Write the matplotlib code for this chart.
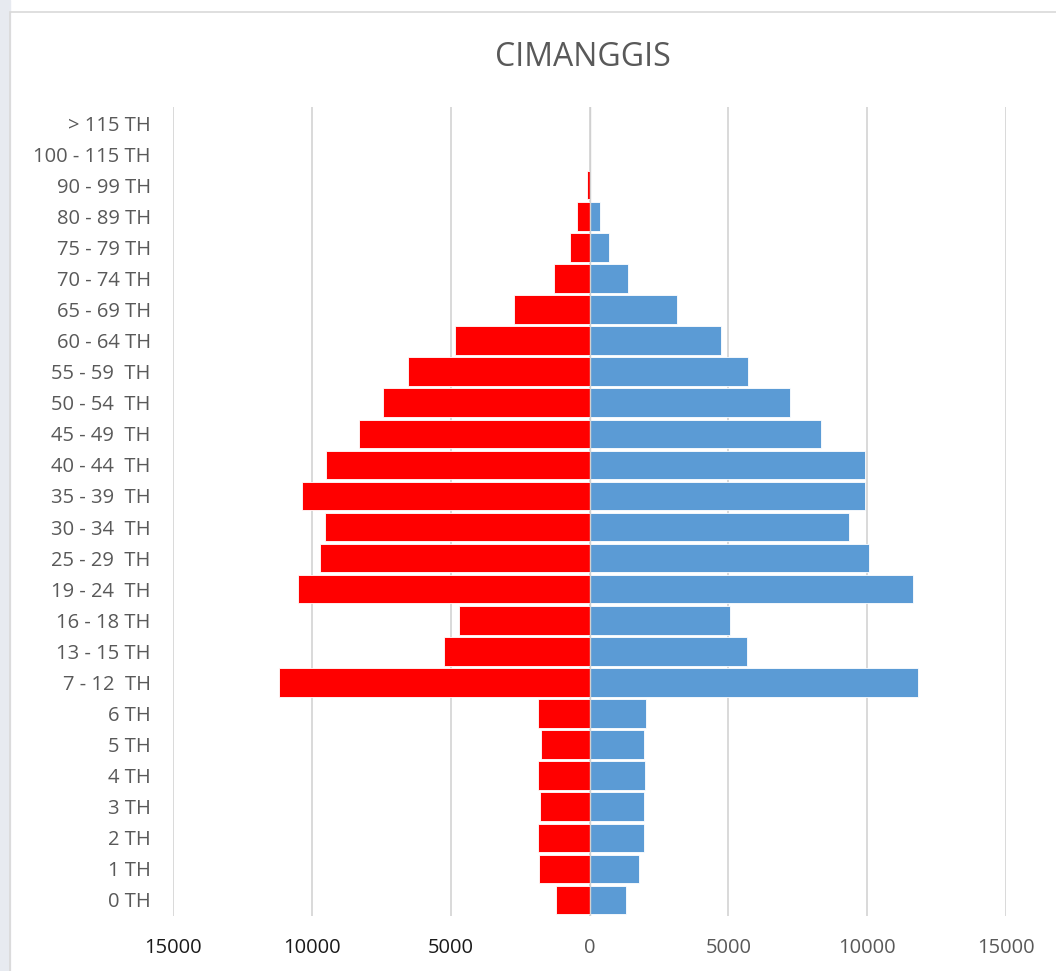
import numpy as np
import matplotlib.pyplot as plt
from matplotlib.patches import Rectangle
from matplotlib.ticker import FuncFormatter

# Age groups, bottom to top (as drawn)
age_groups = [
    "0 TH", "1 TH", "2 TH", "3 TH", "4 TH", "5 TH", "6 TH",
    "7 - 12  TH", "13 - 15 TH", "16 - 18 TH", "19 - 24  TH", "25 - 29  TH",
    "30 - 34  TH", "35 - 39  TH", "40 - 44  TH", "45 - 49  TH", "50 - 54  TH",
    "55 - 59  TH", "60 - 64 TH", "65 - 69 TH", "70 - 74 TH", "75 - 79 TH",
    "80 - 89 TH", "90 - 99 TH", "100 - 115 TH", "> 115 TH",
]

# left side (red)
left_counts = [
    1200, 1810, 1870, 1800, 1870, 1760, 1870,
    11190, 5250, 4710, 10500, 9710,
    9530, 10360, 9500, 8310, 7450,
    6550, 4860, 2720, 1295, 720,
    440, 80, 0, 0,
]

# right side (blue)
right_counts = [
    1320, 1800, 1980, 1980, 2010, 1980, 2050,
    11830, 5680, 5070, 11650, 10070,
    9350, 9930, 9930, 8350, 7230,
    5720, 4750, 3150, 1380, 710,
    395, 0, 0, 0,
]

x_ticks = [-15000, -10000, -5000, 0, 5000, 10000, 15000]

W, H = 1056, 971
fig = plt.figure(figsize=(W / 100, H / 100), dpi=100)
plt.rcParams['font.family'] = ['Open Sans', 'DejaVu Sans']

# faint background strip and the chart border
fig.patches.append(Rectangle((0, 0), 10 / W, 1, transform=fig.transFigure,
                             color="#e7eaf0", zorder=0))
fig.patches.append(Rectangle((10 / W, -0.01), 1, 1 - 12 / H + 0.01,
                             transform=fig.transFigure, fill=False,
                             edgecolor="#d9d9d9", linewidth=1.2, zorder=1))

ax = fig.add_axes([173 / W, 1 - 915.5 / H, (1006 - 173) / W, (915.5 - 107.5) / H])

y = np.arange(len(age_groups))
ax.barh(y, -np.array(left_counts), height=0.92, color="#ff0000",
        edgecolor="white", linewidth=0.6, zorder=3)
ax.barh(y, right_counts, height=0.92, color="#5b9bd5",
        edgecolor="white", linewidth=0.6, zorder=3)

ax.set_xlim(-15000, 15000)
ax.set_ylim(-0.5, len(age_groups) - 0.5)
ax.set_xticks(x_ticks)
ax.xaxis.set_major_formatter(FuncFormatter(lambda v, p: f"{abs(int(v))}"))
ax.set_yticks(y)
ax.set_yticklabels(age_groups)

for s in ax.spines.values():
    s.set_visible(False)
ax.grid(axis="x", color="#d9d9d9", linewidth=1.4, zorder=0)
# category axis line sits on top of the bars
ax.axvline(0, color="#d0d0d0", linewidth=1.0, zorder=4)
ax.tick_params(axis="both", length=0, labelsize=14.5, labelcolor="#595959")
ax.tick_params(axis="x", pad=16)
ax.tick_params(axis="y", pad=16)
for lbl, v in zip(ax.get_xticklabels(), x_ticks):
    if v < 0:
        lbl.set_color("#1a1a1a")

fig.text(583 / W, 1 - 57 / H, "CIMANGGIS", ha="center", va="center",
         fontsize=23, color="#595959")

fig.savefig("out.png", dpi=100)
